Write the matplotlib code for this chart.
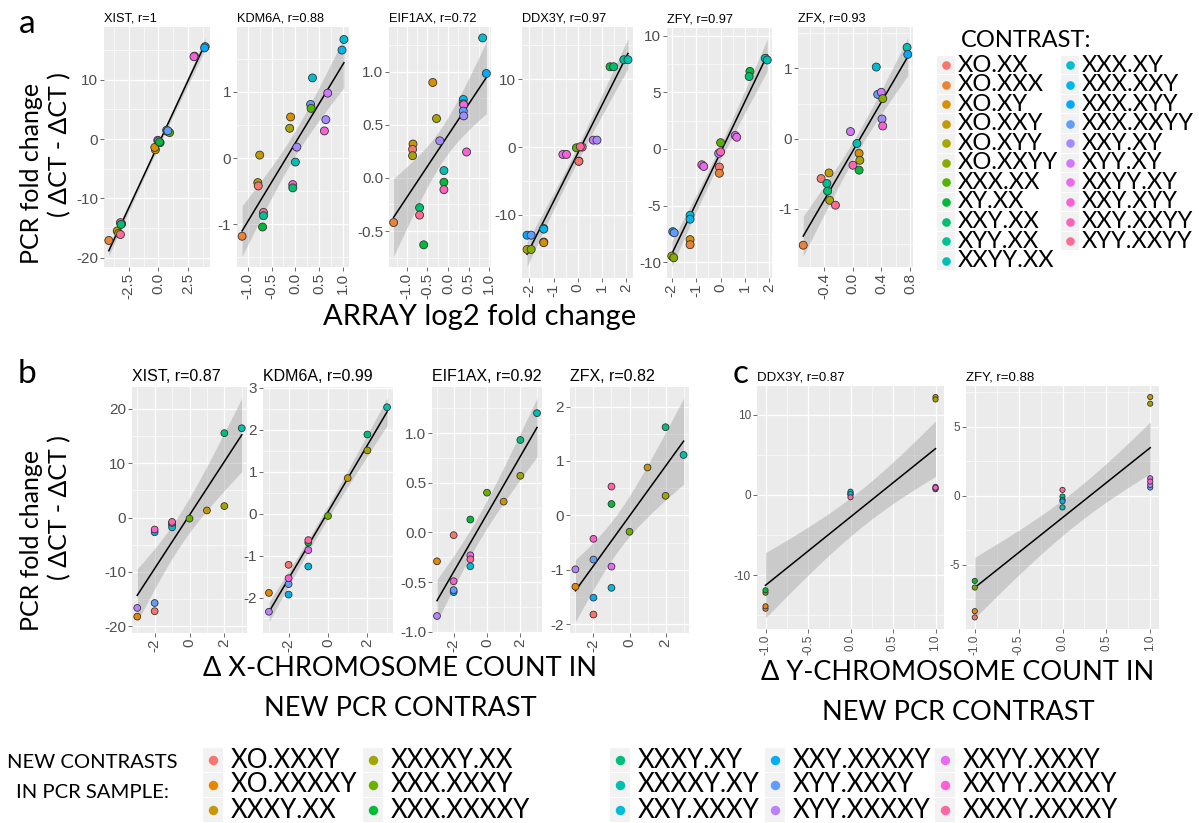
import numpy as np
import matplotlib
matplotlib.use("Agg")
import matplotlib.pyplot as plt
from matplotlib.ticker import AutoMinorLocator
from matplotlib.patches import Rectangle

W, H = 1199, 823
LBL = ['Lato', 'DejaVu Sans']
GG = ['Liberation Sans', 'DejaVu Sans']

# ---------------- data ----------------
CONTRASTS_A = ['XO.XX', 'XO.XXX', 'XO.XY', 'XO.XXY', 'XO.XYY', 'XO.XXYY', 'XXX.XX',
               'XY.XX', 'XXY.XX', 'XYY.XX', 'XXYY.XX', 'XXX.XY', 'XXX.XXY', 'XXX.XYY',
               'XXX.XXYY', 'XXY.XY', 'XYY.XY', 'XXYY.XY', 'XXY.XYY', 'XXY.XXYY', 'XYY.XXYY']
CONTRASTS_B = ['XO.XXXY', 'XO.XXXXY', 'XXXY.XX', 'XXXXY.XX', 'XXX.XXXY', 'XXX.XXXXY',
               'XXXY.XY', 'XXXXY.XY', 'XXY.XXXY', 'XXY.XXXXY', 'XYY.XXXY', 'XYY.XXXXY',
               'XXYY.XXXY', 'XXYY.XXXXY', 'XXXY.XXXXY']

# panel a: array log2 fold change (x), PCR fold change (y), contrast index (c)
a_xist_x = [-4.18, -3.1, -3.2, -3.47, -3.35, -3.2, -0.25, -0.3, -0.05, 0.0, 0.15, 0.7, 0.75, 0.95, 0.8, 3.05, 3.0, 3.95, 3.9, -3.15, 0.1]
a_xist_y = [-17.1, -14.3, -14.1, -15.5, -15.9, -16.1, -1.8, -1.4, -0.2, -0.3, -0.6, 1.5, 1.3, 1.1, 1.4, 14.0, 13.9, 15.6, 15.4, -14.4, -0.5]
a_xist_c = [1, 9, 19, 3, 4, 20, 3, 2, 17, 16, 9, 13, 12, 6, 14, 17, 18, 11, 13, 8, 7]

a_kdm6a_x = [-1.12, -0.75, -0.79, -0.78, -0.67, -0.67, -0.69, -0.10, -0.12, -0.055, -0.055, 0.03, 0.0, 0.32, 0.33, 0.36, 0.61, 0.64, 0.68, 0.98, 1.02]
a_kdm6a_y = [-1.18, 0.045, -0.37, -0.42, -0.82, -0.87, -1.04, 0.62, 0.45, -0.40, -0.45, 0.165, -0.06, 0.81, 0.75, 1.21, 0.41, 0.58, 0.98, 1.63, 1.79]
a_kdm6a_c = [1, 3, 4, 0, 20, 9, 7, 2, 4, 18, 8, 15, 10, 14, 6, 11, 18, 15, 16, 12, 11]

a_eif1ax_x = [-1.32, -0.85, -0.86, -0.86, -0.37, -0.28, -0.2, -0.1, -0.1, -0.1, -0.69, -0.69, -0.59, 0.37, 0.37, 0.38, 0.37, 0.38, 0.45, 0.84, 0.93]
a_eif1ax_y = [-0.42, 0.32, 0.27, 0.21, 0.90, 0.56, 0.35, 0.07, -0.04, -0.11, -0.28, -0.35, -0.63, 0.74, 0.70, 0.69, 0.63, 0.585, 0.245, 1.32, 0.985]
a_eif1ax_c = [1, 3, 0, 4, 2, 4, 15, 10, 7, 19, 8, 20, 7, 12, 5, 17, 14, 15, 18, 11, 13]

a_ddx3y_x = [-2.1, -1.93, -2.1, -1.93, -1.41, -1.41, -0.62, -0.47, -0.06, 0.18, 0.04, 0.64, 0.79, 1.33, 1.48, 1.9, 2.07, 0.1, -1.41, -1.41, 0.04]
a_ddx3y_y = [-13.0, -13.0, -15.1, -15.1, -12.0, -14.0, -1.08, -1.08, -0.1, 0.0, -2.06, 1.03, 1.03, 11.86, 11.86, 12.9, 12.9, 0.05, -12.1, -14.1, -2.1]
a_ddx3y_c = [13, 14, 4, 5, 11, 3, 17, 18, 6, 19, 1, 16, 15, 7, 8, 9, 10, 20, 12, 2, 0]

a_zfy_x = [-2.0, -1.92, -1.96, -1.9, -1.25, -1.25, -1.25, -1.25, -0.77, -0.69, 0.0, -0.08, 0.0, -0.05, -0.05, 0.6, 0.66, 1.2, 1.17, 1.83, 1.91]
a_zfy_y = [-9.45, -9.6, -7.3, -7.4, -5.86, -6.2, -8.0, -8.45, -1.4, -1.55, 0.55, -0.4, -0.26, -1.6, -2.15, 1.18, 1.03, 6.84, 6.38, 7.99, 7.84]
a_zfy_c = [4, 5, 13, 14, 11, 12, 2, 1, 18, 17, 6, 15, 19, 0, 1, 16, 17, 7, 8, 9, 10]

a_zfx_x = [-0.69, -0.44, -0.33, -0.36, -0.35, -0.32, -0.24, -0.03, 0.005, 0.06, 0.09, 0.1, 0.09, 0.33, 0.35, 0.40, 0.42, 0.41, 0.42, 0.76, 0.77]
a_zfx_y = [-1.52, -0.57, -0.49, -0.64, -0.75, -0.88, -0.95, 0.10, -0.38, -0.07, -0.21, -0.31, -0.45, 1.02, 0.63, 0.66, 0.57, 0.28, 0.18, 1.30, 1.20]
a_zfx_c = [1, 0, 3, 9, 8, 4, 20, 16, 19, 10, 2, 4, 7, 11, 14, 16, 5, 15, 18, 10, 13]

# panels b and c: one value per new contrast (CONTRASTS_B order)
delta_x = [-2, -3, 1, 2, 0, -1, 2, 3, -1, -2, -2, -3, -1, -2, -1]
delta_y = [-1, -1, 1, 1, -1, -1, 0, 0, 0, 0, 1, 1, 1, 1, 0]
b_xist_y = [-17.2, -18.2, 1.3, 2.1, -0.2, -1.3, 15.5, 16.4, -1.8, -2.7, -15.7, -16.6, -1.0, -2.2, -0.8]
b_kdm6a_y = [-1.22, -1.89, 0.85, 1.51, -0.055, -0.69, 1.89, 2.54, -1.26, -1.93, -1.68, -2.34, -0.87, -1.54, -0.63]
b_eif1ax_y = [-0.027, -0.29, 0.31, 0.57, 0.40, 0.13, 0.93, 1.20, -0.34, -0.60, -0.58, -0.84, -0.23, -0.49, -0.27]
b_zfx_y = [-1.82, -1.31, 0.88, 0.36, -0.30, 0.21, 1.62, 1.11, -1.33, -1.51, -0.81, -0.99, -0.94, -0.43, 0.53]
c_ddx3y_y = [-14.2, -13.9, 12.2, 11.9, -12.2, -11.9, 0.2, 0.4, 0.0, 0.1, 0.7, 0.8, 1.0, 0.9, -0.3]
c_zfy_y = [-8.8, -8.35, 7.15, 6.67, -6.64, -6.16, -0.05, -0.84, -0.3, -0.4, 0.6, 0.79, 1.27, 1.03, 0.43]


# ---------------- helpers ----------------
def hcl(h, c=100.0, l=65.0):
    h = np.deg2rad(h)
    u, v = c * np.cos(h), c * np.sin(h)
    Xn, Yn, Zn = 95.047, 100.0, 108.883
    un = 4 * Xn / (Xn + 15 * Yn + 3 * Zn)
    vn = 9 * Yn / (Xn + 15 * Yn + 3 * Zn)
    Y = Yn * ((l + 16) / 116) ** 3 if l > 8 else Yn * l / 903.3
    up = u / (13 * l) + un
    vp = v / (13 * l) + vn
    X = Y * 9 * up / (4 * vp)
    Z = Y * (12 - 3 * up - 20 * vp) / (4 * vp)
    xyz = np.array([X, Y, Z]) / 100
    M = np.array([[3.2404542, -1.5371385, -0.4985314],
                  [-0.9692660, 1.8760108, 0.0415560],
                  [0.0556434, -0.2040259, 1.0572252]])
    rgb = M @ xyz
    rgb = np.where(rgb <= 0.0031308, 12.92 * rgb, 1.055 * np.abs(rgb) ** (1 / 2.4) - 0.055)
    return tuple(np.clip(rgb, 0, 1))


def hue_pal(n):
    return [hcl(15 + 360.0 * i / n) for i in range(n)]


PAL_A = hue_pal(len(CONTRASTS_A))
PAL_B = hue_pal(len(CONTRASTS_B))


def box(l, t, r, b):
    return [l / W, 1 - b / H, (r - l) / W, (b - t) / H]


def tq(df):
    z = 1.959964
    return z + (z ** 3 + z) / (4 * df) + (5 * z ** 5 + 16 * z ** 3 + 3 * z) / (96 * df ** 2)


def lm_band(x, y):
    x = np.asarray(x, float)
    y = np.asarray(y, float)
    n = len(x)
    xb, yb = x.mean(), y.mean()
    sxx = ((x - xb) ** 2).sum()
    b = ((x - xb) * (y - yb)).sum() / sxx
    a = yb - b * xb
    s = np.sqrt(((y - a - b * x) ** 2).sum() / (n - 2))
    xs = np.linspace(x.min(), x.max(), 80)
    yh = a + b * xs
    se = s * np.sqrt(1 / n + (xs - xb) ** 2 / sxx)
    t = tq(n - 2)
    return xs, yh, yh - t * se, yh + t * se


def fmt(ticks):
    dec = max((len(repr(float(t)).split('.')[1].rstrip('0')) for t in ticks), default=0)
    return [f"{t:.{dec}f}" for t in ticks]


fig = plt.figure(figsize=(W / 100, H / 100), dpi=100)
ov = fig.add_axes([0, 0, 1, 1])
ov.set_xlim(0, W)
ov.set_ylim(H, 0)
ov.axis('off')


def panel(bx, x, y, cols, title, xt, yt, s, tickfs, titlefs):
    ax = fig.add_axes(box(*bx))
    ax.set_facecolor('#EBEBEB')
    for sp in ax.spines.values():
        sp.set_visible(False)
    xs, yh, lo, hi = lm_band(x, y)
    ax.fill_between(xs, lo, hi, color='#999999', alpha=0.4, lw=0, zorder=2)
    ax.plot(xs, yh, color='black', lw=1.1, zorder=2.5)
    ax.scatter(x, y, s=s, c=cols, edgecolors='#333333', linewidths=0.6, zorder=3)
    ax.margins(0.05)
    ax.autoscale_view()
    xl, yl = ax.get_xlim(), ax.get_ylim()
    ax.set_xticks(xt, fmt(xt), rotation=90)
    ax.set_yticks(yt, fmt(yt))
    ax.set_xlim(xl)
    ax.set_ylim(yl)
    ax.xaxis.set_minor_locator(AutoMinorLocator(2))
    ax.yaxis.set_minor_locator(AutoMinorLocator(2))
    ax.set_axisbelow(True)
    ax.grid(which='major', color='white', lw=0.9)
    ax.grid(which='minor', color='white', lw=0.45)
    ax.tick_params(which='minor', length=0)
    ax.tick_params(which='major', length=2.75, width=0.5, color='#333333',
                   labelsize=tickfs, labelcolor='#4D4D4D', pad=1.5)
    for lab in ax.get_xticklabels() + ax.get_yticklabels():
        lab.set_family(GG)
    ax.set_title(title, loc='left', fontsize=titlefs, pad=4, family=GG)
    return ax


# ---------------- panel a ----------------
SA = 33
panel((104, 27, 210, 267), a_xist_x, a_xist_y, [PAL_A[i] for i in a_xist_c], 'XIST, r=1',
      [-2.5, 0, 2.5], [-20, -10, 0, 10], SA, 11, 9.2)
panel((237, 27, 349, 267), a_kdm6a_x, a_kdm6a_y, [PAL_A[i] for i in a_kdm6a_c], 'KDM6A, r=0.88',
      [-1, -0.5, 0, 0.5, 1], [-1, 0, 1], SA, 11, 9.2)
panel((389, 27, 491, 267), a_eif1ax_x, a_eif1ax_y, [PAL_A[i] for i in a_eif1ax_c], 'EIF1AX, r=0.72',
      [-1, -0.5, 0, 0.5, 1], [-0.5, 0, 0.5, 1], SA, 11, 9.2)
panel((522, 27, 633, 278), a_ddx3y_x, a_ddx3y_y, [PAL_A[i] for i in a_ddx3y_c], 'DDX3Y, r=0.97',
      [-2, -1, 0, 1, 2], [-10, 0, 10], SA, 11, 9.2)
panel((667, 28, 772, 278), a_zfy_x, a_zfy_y, [PAL_A[i] for i in a_zfy_c], 'ZFY, r=0.97',
      [-2, -1, 0, 1, 2], [-10, -5, 0, 5, 10], SA, 11, 9.2)
panel((798, 27, 913, 267), a_zfx_x, a_zfx_y, [PAL_A[i] for i in a_zfx_c], 'ZFX, r=0.93',
      [-0.4, 0, 0.4, 0.8], [-1, 0, 1], SA, 11, 9.2)

# ---------------- panel b ----------------
SB = 24
cb = [PAL_B[i] for i in range(len(CONTRASTS_B))]
panel((132, 387, 247, 633), delta_x, b_xist_y, cb, 'XIST, r=0.87',
      [-2, 0, 2], [-20, -10, 0, 10, 20], SB, 11, 11.5)
panel((263, 387, 393, 633), delta_x, b_kdm6a_y, cb, 'KDM6A, r=0.99',
      [-2, 0, 2], [-2, -1, 0, 1, 2, 3], SB, 11, 11.5)
panel((432, 387, 542, 633), delta_x, b_eif1ax_y, cb, 'EIF1AX, r=0.92',
      [-2, 0, 2], [-1, -0.5, 0, 0.5, 1], SB, 11, 11.5)
panel((570, 387, 689, 633), delta_x, b_zfx_y, cb, 'ZFX, r=0.82',
      [-2, 0, 2], [-2, -1, 0, 1, 2], SB, 11, 11.5)

# ---------------- panel c ----------------
SC = 14
panel((757, 386, 944, 629), delta_y, c_ddx3y_y, cb, 'DDX3Y, r=0.87',
      [-1, -0.5, 0, 0.5, 1], [-10, 0, 10], SC, 8.5, 9.5)
panel((966, 386, 1159, 629), delta_y, c_zfy_y, cb, 'ZFY, r=0.88',
      [-1, -0.5, 0, 0.5, 1], [-5, 0, 5], SC, 8.5, 9.5)

# ---------------- labels ----------------
def txt(x, y, s, size, **kw):
    kw.setdefault('ha', 'center')
    kw.setdefault('va', 'center')
    ov.text(x, y, s, fontsize=size, family=LBL, **kw)


txt(27, 24, 'a', 24)
txt(27, 374, 'b', 24)
txt(741, 374, 'c', 24)

txt(32, 173, 'PCR fold change', 18, rotation=90)
txt(60, 145, '( ΔCT - ΔCT )', 18, rotation=90)
txt(32, 540, 'PCR fold change', 18, rotation=90)
txt(60, 508, '( ΔCT - ΔCT )', 18, rotation=90)

txt(480, 317, 'ARRAY log2 fold change', 21)
txt(400, 668, 'Δ X-CHROMOSOME COUNT IN', 19.5)
txt(400, 708, 'NEW PCR CONTRAST', 19.5)
txt(958, 672, 'Δ Y-CHROMOSOME COUNT IN', 19.5)
txt(958, 712, 'NEW PCR CONTRAST', 19.5)

# legend a
txt(1026, 40, 'CONTRAST:', 17)
row0, dy = 65, 19.57
for i, name in enumerate(CONTRASTS_A):
    col, row = divmod(i, 11)
    kx = 946 + col * 124
    ky = row0 + row * dy
    ov.add_patch(Rectangle((kx - 9, ky - 9.3), 18, 18.6, facecolor='#F2F2F2', edgecolor='none'))
    ov.plot([kx], [ky], 'o', ms=6.2, color=PAL_A[i], mec='none')
    txt(kx + 12, ky, name, 17, ha='left')

# legend b (bottom)
txt(92, 763, 'NEW CONTRASTS', 14.6)
txt(92, 793, 'IN PCR SAMPLE:', 14.6)
key_x = [213, 373, 620, 775, 945]
for i, name in enumerate(CONTRASTS_B):
    col, row = divmod(i, 3)
    kx = key_x[col]
    ky = 760 + row * 25
    ov.add_patch(Rectangle((kx - 10, ky - 12), 20, 24, facecolor='#F2F2F2', edgecolor='none'))
    ov.plot([kx], [ky], 'o', ms=6.8, color=PAL_B[i], mec='none')
    txt(kx + 18, ky, name, 18.5, ha='left')

fig.savefig('out.png', dpi=100)
